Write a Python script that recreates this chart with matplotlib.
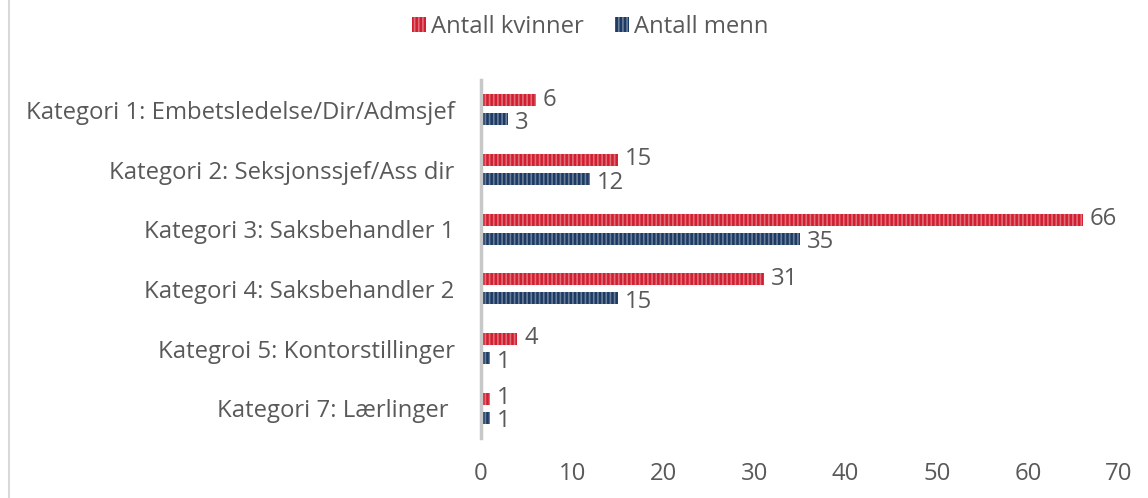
import matplotlib
matplotlib.use("Agg")
import matplotlib.pyplot as plt
from matplotlib.lines import Line2D
import numpy as np

categories = [
    "Kategori 1: Embetsledelse/Dir/Admsjef",
    "Kategori 2: Seksjonssjef/Ass dir",
    "Kategori 3: Saksbehandler 1",
    "Kategori 4: Saksbehandler 2",
    "Kategroi 5: Kontorstillinger",
    "Kategori 7: Lærlinger ",
]
kvinner = [6, 15, 66, 31, 4, 1]
menn = [3, 12, 35, 15, 1, 1]
series_names = ["Antall kvinner", "Antall menn"]
xticks = [0, 10, 20, 30, 40, 50, 60, 70]

plt.rcParams['font.family'] = ['Open Sans', 'DejaVu Sans']
plt.rcParams['hatch.linewidth'] = 1.2
text_color = "#595959"
red = "#D01F30"
blue = "#1C3A64"
fs = 17.2

fig = plt.figure(figsize=(11.48, 4.98), dpi=100)
ax = fig.add_axes([481/1148, 1-438/498, (1119-481)/1148, (438-80)/498])

y = np.arange(len(categories))
h = 0.2
off = 0.16
b1 = ax.barh(y - off, kvinner, height=h, color=red, edgecolor=(1, 1, 1, 0.35),
             hatch='||||', linewidth=0, label=series_names[0])
b2 = ax.barh(y + off, menn, height=h, color=blue, edgecolor=(1, 1, 1, 0.35),
             hatch='||||', linewidth=0, label=series_names[1])

for bars, vals, dy in ((b1, kvinner, 0.5), (b2, menn, -2.5)):
    for rect, v in zip(bars, vals):
        ax.annotate(str(v), (v, rect.get_y() + rect.get_height() / 2),
                    xytext=(5, dy), textcoords='offset points',
                    va='center', ha='left', fontsize=fs, color=text_color)

ax.set_ylim(len(categories) - 0.5, -0.5)
ax.set_xlim(0, 70)
ax.set_xticks(xticks)
ax.set_xticklabels([str(t) for t in xticks])
ax.set_yticks(y)
ax.set_yticklabels(categories)
ax.tick_params(axis='both', length=0, labelsize=fs, labelcolor=text_color)
ax.tick_params(axis='x', pad=17)
ax.tick_params(axis='y', pad=19)
for s in ('top', 'right', 'bottom'):
    ax.spines[s].set_visible(False)
ax.spines['left'].set_color('#C8C8C8')
ax.spines['left'].set_linewidth(2.5)

leg = fig.legend(handles=[b1, b2], labels=series_names, loc='center',
                 bbox_to_anchor=(590/1148, 1-27/498), ncol=2, frameon=False,
                 fontsize=fs, labelcolor=text_color, handlelength=0.6,
                 handleheight=0.6, handletextpad=0.2, columnspacing=1.3)

fig.add_artist(Line2D([8.5/1148, 8.5/1148], [0, 1], color='#D9D9D9', linewidth=1.5,
                      transform=fig.transFigure))

fig.savefig("out.png", dpi=100, facecolor='white')
